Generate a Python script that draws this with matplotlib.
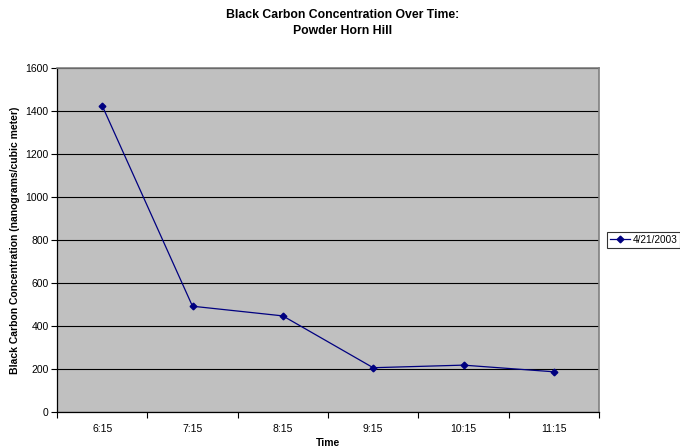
import matplotlib
matplotlib.use("Agg")
import matplotlib.pyplot as plt
from matplotlib.ticker import FixedLocator, MultipleLocator

plt.rcParams['font.family'] = ['Liberation Sans', 'DejaVu Sans']

times = ["6:15", "7:15", "8:15", "9:15", "10:15", "11:15"]
concentration = [1425, 492, 447, 206, 218, 187]
series_label = "4/21/2003"

fig = plt.figure(figsize=(6.8, 4.48), dpi=100)
ax = fig.add_axes([57/680, 1 - 412/448, 542/680, 344/448])
ax.set_facecolor("#C0C0C0")

x = list(range(len(times)))
ax.plot(x, concentration, color="#000080", lw=0.9, marker="D", markersize=3.4,
        label=series_label, zorder=3)

ax.set_xlim(-0.5, len(times) - 0.5)
ax.set_ylim(0, 1600)
ax.yaxis.set_major_locator(MultipleLocator(200))
ax.set_xticks(x)
ax.set_xticklabels(times, fontsize=7.5)
ax.tick_params(axis='x', which='major', length=0, pad=9)
ax.xaxis.set_minor_locator(FixedLocator([i - 0.5 for i in range(len(times) + 1)]))
ax.tick_params(axis='x', which='minor', length=4, width=0.8, direction='out')
ax.tick_params(axis='y', labelsize=7.5, length=4, width=0.8, pad=2)

ax.grid(axis='y', color='black', lw=0.8, zorder=1)
ax.set_axisbelow(True)

for side in ('left', 'bottom'):
    ax.spines[side].set_color('black')
    ax.spines[side].set_linewidth(0.9)
for side in ('top', 'right'):
    ax.spines[side].set_color('#808080')
    ax.spines[side].set_linewidth(1.2)

ax.set_xlabel("Time", fontsize=7.5, fontweight='bold', labelpad=2.5)
ax.set_ylabel("Black Carbon Concentration (nanograms/cubic meter)", fontsize=7.5,
              fontweight='bold', labelpad=4)

fig.text(343/680, 1 - 15/448, "Black Carbon Concentration Over Time:",
         ha='center', va='center', fontsize=8.8, fontweight='bold')
fig.text(343/680, 1 - 31/448, "Powder Horn Hill",
         ha='center', va='center', fontsize=8.8, fontweight='bold')

leg = fig.legend(loc='center left', bbox_to_anchor=(607/680, 1 - 240/448),
                 fontsize=7.2, frameon=True, fancybox=False, handlelength=2.0,
                 borderpad=0.3, handletextpad=0.25, borderaxespad=0)
leg.get_frame().set_edgecolor('black')
leg.get_frame().set_linewidth(0.8)

fig.savefig("out.png", dpi=100)
